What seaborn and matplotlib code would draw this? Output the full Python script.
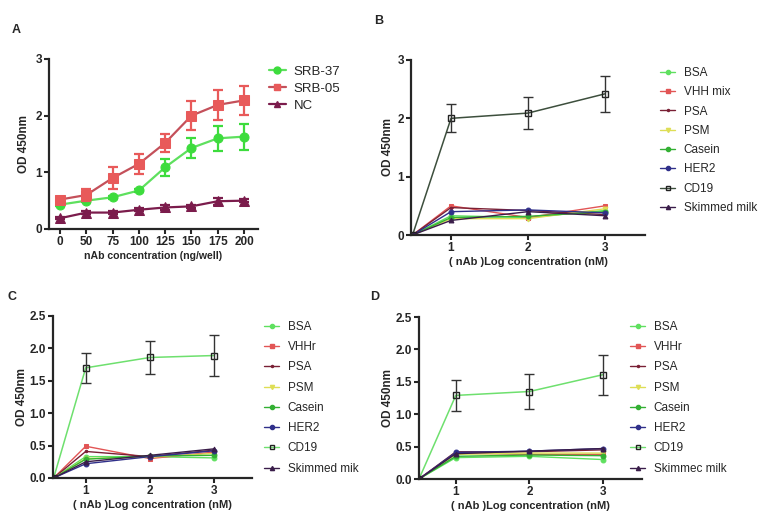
import numpy as np
import pandas as pd
import seaborn as sns
import matplotlib.pyplot as plt
from matplotlib.lines import Line2D

sns.set_style("ticks")
plt.rcParams['font.family'] = ['Liberation Sans', 'DejaVu Sans']

# ---- panel A: antibody titration ----
conc_a = ["0", "50", "75", "100", "125", "150", "175", "200"]
srb37 = [0.43, 0.50, 0.56, 0.68, 1.09, 1.43, 1.60, 1.63]
srb37_err = [0.03, 0.03, 0.03, 0.03, 0.15, 0.18, 0.22, 0.23]
srb05 = [0.52, 0.60, 0.90, 1.15, 1.52, 2.00, 2.19, 2.27]
srb05_err = [0.05, 0.10, 0.19, 0.18, 0.16, 0.25, 0.26, 0.26]
nc = [0.19, 0.29, 0.29, 0.34, 0.38, 0.40, 0.49, 0.50]
nc_err = [0.02, 0.02, 0.02, 0.03, 0.05, 0.03, 0.06, 0.03]

# ---- panels B-D: specificity vs. log concentration ----
log_conc = [0.5, 1, 2, 3]   # first point = blank at origin

names_b = ["BSA", "VHH mix", "PSA", "PSM", "Casein", "HER2", "CD19", "Skimmed milk"]
vals_b = [
    [0, 0.33, 0.30, 0.42],
    [0, 0.50, 0.30, 0.50],
    [0, 0.47, 0.42, 0.35],
    [0, 0.28, 0.28, 0.45],
    [0, 0.30, 0.32, 0.40],
    [0, 0.40, 0.43, 0.38],
    [0, 2.00, 2.09, 2.42],
    [0, 0.25, 0.40, 0.33],
]
cd19_err_b = [0, 0.24, 0.27, 0.31]

names_c = ["BSA", "VHHr", "PSA", "PSM", "Casein", "HER2", "CD19", "Skimmed mik"]
vals_c = [
    [0, 0.33, 0.33, 0.31],
    [0, 0.49, 0.30, 0.40],
    [0, 0.41, 0.33, 0.43],
    [0, 0.30, 0.32, 0.38],
    [0, 0.29, 0.34, 0.35],
    [0, 0.22, 0.33, 0.42],
    [0, 1.70, 1.86, 1.89],
    [0, 0.25, 0.35, 0.45],
]
cd19_err_c = [0, 0.23, 0.26, 0.31]

names_d = ["BSA", "VHHr", "PSA", "PSM", "Casein", "HER2", "CD19", "Skimmec milk"]
vals_d = [
    [0, 0.33, 0.35, 0.30],
    [0, 0.40, 0.38, 0.38],
    [0, 0.42, 0.42, 0.45],
    [0, 0.38, 0.40, 0.40],
    [0, 0.35, 0.37, 0.36],
    [0, 0.41, 0.43, 0.47],
    [0, 1.29, 1.35, 1.61],
    [0, 0.39, 0.43, 0.47],
]
cd19_err_d = [0, 0.24, 0.27, 0.31]

prot_colors = ["#5fe05f", "#e25555", "#7a2035", "#dede55", "#33b033", "#30308a", "#3d4f3d", "#3a1d4a"]
prot_markers = ["o", "s", ".", "v", "o", "o", "s", "^"]

xlab = "( nAb )Log concentration (nM)"


def style_axes(ax):
    sns.despine(ax=ax)
    for s in ["left", "bottom"]:
        ax.spines[s].set_linewidth(1.6)
    ax.tick_params(width=1.5, length=3.5, pad=1.5, labelsize=8.5)
    for t in ax.get_xticklabels() + ax.get_yticklabels():
        t.set_fontweight("bold")


fig = plt.figure(figsize=(7.59, 5.15), dpi=100)

# panel A
axA = fig.add_axes([49 / 759, 1 - 229 / 515, 209 / 759, 170 / 515])
pos = np.arange(len(conc_a))
series_a = [("SRB-37", srb37, srb37_err, "#3ddc3d", "#5ee05e", "o"),
            ("SRB-05", srb05, srb05_err, "#e85a5a", "#c4505a", "s"),
            ("NC", nc, nc_err, "#7b1c4c", "#7b1c4c", "^")]
handles_a = []
for name, v, e, mc, lc, mk in series_a:
    sns.lineplot(x=pos, y=v, ax=axA, color=lc, lw=1.6, marker=mk, markersize=6.5,
                 markerfacecolor=mc, markeredgecolor=mc)
    axA.errorbar(pos, v, yerr=e, fmt="none", ecolor=mc, elinewidth=1.6, capsize=3.5, capthick=1.6)
    handles_a.append(Line2D([], [], color=lc, lw=1.6, marker=mk, markersize=5,
                            markerfacecolor=mc, markeredgecolor=mc))
axA.set_xticks(pos)
axA.set_xticklabels(conc_a)
axA.set_xlim(-0.42, 7.53)
axA.set_ylim(0, 3)
axA.set_yticks([0, 1, 2, 3])
axA.set_xlabel("nAb concentration (ng/well)", fontsize=7.6, fontweight="bold", labelpad=2)
axA.set_ylabel("OD 450nm", fontsize=8.5, fontweight="bold")
axA.yaxis.set_label_coords(-0.091, 0.5)
style_axes(axA)
fig.legend(handles_a, ["SRB-37", "SRB-05", "NC"], loc="upper left",
           bbox_to_anchor=(262 / 759, 1 - 59 / 515), frameon=False, fontsize=9.5,
           handlelength=1.3, handletextpad=0.6, labelspacing=0.35, borderpad=0)


def protein_panel(rect, names, vals, cd19_err, ylim, yticks, xlim, big_line, legend_xy, spacing, ylx):
    ax = fig.add_axes(rect)
    handles = []
    for i, (name, v) in enumerate(zip(names, vals)):
        c = prot_colors[i]
        if name == "CD19":
            sns.lineplot(x=log_conc, y=v, ax=ax, color=big_line, lw=1.1, marker="s", markersize=4.5,
                         markerfacecolor="none", markeredgecolor="#222222", markeredgewidth=1)
            ax.errorbar(log_conc[1:], v[1:], yerr=cd19_err[1:], fmt="none", ecolor="#333333",
                        elinewidth=1, capsize=3.5, capthick=1)
            handles.append(Line2D([], [], color=big_line, lw=1, marker="s", markersize=3.5,
                                  markerfacecolor="none", markeredgecolor="#222222"))
        else:
            sns.lineplot(x=log_conc, y=v, ax=ax, color=c, lw=1.0, marker=prot_markers[i], markersize=3.5,
                         markerfacecolor=c, markeredgecolor=c)
            handles.append(Line2D([], [], color=c, lw=1, marker=prot_markers[i], markersize=3,
                                  markerfacecolor=c, markeredgecolor=c))
    ax.set_xlim(*xlim)
    ax.set_ylim(*ylim)
    ax.set_xticks([1, 2, 3])
    ax.set_yticks(yticks)
    ax.set_xlabel(xlab, fontsize=8, fontweight="bold", labelpad=2)
    ax.set_ylabel("OD 450nm", fontsize=8.5, fontweight="bold")
    ax.yaxis.set_label_coords(ylx, 0.5)
    style_axes(ax)
    fig.legend(handles, names, loc="upper left",
               bbox_to_anchor=(legend_xy[0] / 759, 1 - legend_xy[1] / 515), frameon=False, fontsize=8.5,
               handlelength=1.3, handletextpad=0.7, labelspacing=spacing, borderpad=0)
    return ax


axB = protein_panel([411 / 759, 1 - 235 / 515, 234 / 759, 175 / 515], names_b, vals_b, cd19_err_b,
                    (0, 3), [0, 1, 2, 3], (0.48, 3.52), "#3d4f3d", (654, 61), 0.62, -0.073)
axC = protein_panel([53 / 759, 1 - 478 / 515, 199 / 759, 162 / 515], names_c, vals_c, cd19_err_c,
                    (0, 2.5), [0.0, 0.5, 1.0, 1.5, 2.0, 2.5], (0.49, 3.59), "#6ee06e", (258, 315), 0.7, -0.126)
axD = protein_panel([419 / 759, 1 - 479 / 515, 223 / 759, 162 / 515], names_d, vals_d, cd19_err_d,
                    (0, 2.5), [0.0, 0.5, 1.0, 1.5, 2.0, 2.5], (0.5, 3.53), "#6ee06e", (624, 315), 0.7, -0.112)
for ax in (axC, axD):
    ax.set_yticklabels(["0.0", "0.5", "1.0", "1.5", "2.0", "2.5"])
    for t in ax.get_yticklabels():
        t.set_fontweight("bold")

for letter, x, y in [("A", 12, 30), ("B", 374, 21), ("C", 8, 297), ("D", 370, 297)]:
    fig.text(x / 759, 1 - y / 515, letter, fontsize=9, fontweight="bold", va="center")

fig.savefig("out.png", dpi=100)
